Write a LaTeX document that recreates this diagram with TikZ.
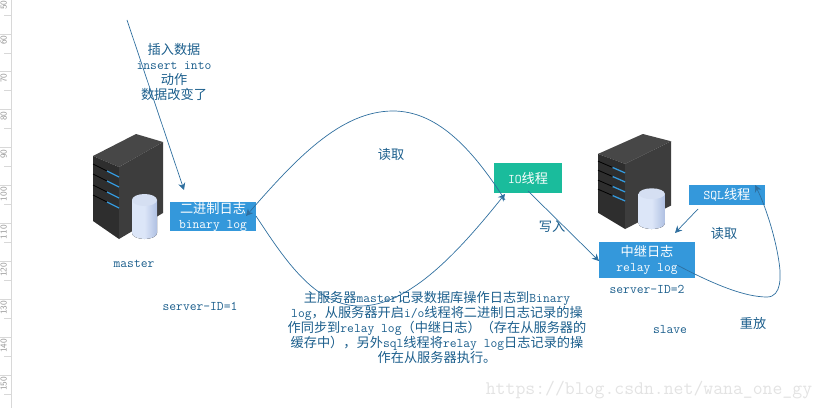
\documentclass[tikz,border=0pt]{standalone}
\usepackage{fontspec}
\newfontfamily\cjk{Noto Sans CJK SC}
\newcommand{\cn}[1]{{\cjk #1}}
\usetikzlibrary{arrows.meta}
\definecolor{inkblue}{HTML}{1B5E8C}
\definecolor{lineblue}{HTML}{2F6F9F}
\definecolor{boxblue}{HTML}{3498DB}
\definecolor{boxgreen}{HTML}{1ABC9C}
\definecolor{rulergray}{HTML}{D8D8D8}
\definecolor{cylside}{HTML}{AFC0E2}
\definecolor{cylmid}{HTML}{DCE6F8}
\definecolor{cyltop}{HTML}{D5DFF2}
\tikzset{
  label text/.style={text=inkblue,align=center,inner sep=0pt,font=\fontsize{13.2}{15}\ttfamily},
  log box/.style={fill=#1,text=white,align=center,inner sep=0pt,font=\fontsize{13.2}{15}\ttfamily},
  flow/.style={draw=lineblue,line width=0.7pt,-{Stealth[length=7pt,width=7pt]}},
  ruler tick/.style={draw=rulergray,line width=0.8pt},
  serverbox/.pic={
    \fill[black!72] (0,22) -- (43,0) -- (70,8) -- (26,33) -- cycle;
    \fill[black!82] (0,22) -- (26,33) -- (26,105) -- (0,87) -- cycle;
    \fill[black!76] (26,33) -- (70,8) -- (70,79) -- (26,105) -- cycle;
    \foreach \slot in {0,10,21,31} {
      \draw[black,line width=0.8pt] (0,30+\slot) -- (14,37+\slot);
      \draw[boxblue,line width=1.3pt] (14,37+\slot) -- (26,43+\slot);
    }
    \fill[left color=cylmid,right color=cylside,middle color=cylmid]
      (39,66) -- (39,99) arc[start angle=180,end angle=360,x radius=12.5pt,y radius=6pt] -- (64,66) -- cycle;
    \fill[cyltop] (51.5,66) ellipse[x radius=12.5pt,y radius=6pt];
  }
}
\begin{document}
\begin{tikzpicture}[x=1pt,y=-1pt]
  \useasboundingbox (0,0) rectangle (826,409);
  % ruler
  \draw[ruler tick,line width=1pt] (11.5,0) -- (11.5,408);
  \foreach \tick [count=\i from 0] in {50,60,...,150} {
    \draw[ruler tick] (0,{-3.9+37.9*\i}) -- (11,{-3.9+37.9*\i});
    \draw[ruler tick] (4,{15.05+37.9*\i}) -- (11,{15.05+37.9*\i});
    \node[rotate=90,anchor=east,inner sep=0pt,text=gray!80,font=\fontsize{9}{9}\sffamily] (ruler\tick) at (3.6,{max(0.5,-2.4+37.9*\i)}) {\tick};
  }
  % servers
  \pic at (93,134) {serverbox};
  \pic[xscale=1.043,yscale=0.905] at (598,134) {serverbox};
  % boxes
  \node[log box=boxblue,minimum width=86pt,minimum height=25pt] (binlog) at (213,216.5) {\cn{二进制日志}\\binary log};
  \node[log box=boxgreen,minimum width=68pt,minimum height=30pt] (iothread) at (528,178) {IO\cn{线程}};
  \node[log box=boxblue,minimum width=76pt,minimum height=20pt] (sqlthread) at (727,195) {SQL\cn{线程}};
  \node[log box=boxblue,minimum width=96pt,minimum height=36pt] (relaylog) at (647,260) {\cn{中继日志}\\relay log};
  % connector ends
  \coordinate (insertstart) at (127,20);
  \coordinate (insertend) at (184,190);
  \coordinate (readstart) at (505,200);
  \coordinate (readend) at (246,216);
  \coordinate (syncstart) at (256,216);
  \coordinate (syncend) at (505,194);
  \coordinate (writestart) at (528,191);
  \coordinate (writeend) at (599,261);
  \coordinate (sqlstart) at (698,209);
  \coordinate (sqlend) at (675,233);
  \coordinate (replaystart) at (677,265);
  \coordinate (replayend) at (755,185);
  % connectors
  \draw[flow] (insertstart) -- (insertend);
  \draw[flow] (readstart) .. controls (470,145) and (435,111) .. (393,111)
    .. controls (340,111) and (295,160) .. (readend);
  \draw[flow] (syncstart) .. controls (285,260) and (315,306) .. (360,306)
    .. controls (410,306) and (460,250) .. (syncend);
  \draw[flow] (writestart) -- (writeend);
  \draw[flow] (sqlstart) -- (sqlend);
  \draw[flow] (replaystart) .. controls (715,285) and (745,297) .. (767,297)
    .. controls (782,297) and (781,275) .. (779,262)
    .. controls (775,235) and (765,205) .. (replayend);
  % labels
  \node[label text] (insertnote) at (174,72) {\cn{插入数据}\\insert into\\\cn{动作}\\\cn{数据改变了}};
  \node[label text] (masterlabel) at (134,264) {master};
  \node[label text] (masterid) at (200,306) {server-ID=1};
  \node[label text] (readnote) at (391,155) {\cn{读取}};
  \node[label text] (writenote) at (552,227) {\cn{写入}};
  \node[label text] (relayread) at (724,234) {\cn{读取}};
  \node[label text] (slaveid) at (647,289) {server-ID=2};
  \node[label text] (slavelabel) at (670,330) {slave};
  \node[label text] (replaynote) at (753,323) {\cn{重放}};
  \node[label text] (summary) at (437,327) {\cn{主服务器}master\cn{记录数据库操作日志到}Binary\\
    log\cn{，从服务器开启}i/o\cn{线程将二进制日志记录的操}\\
    \cn{作同步到}relay log\cn{（中继日志）（存在从服务器的}\\
    \cn{缓存中），另外}sql\cn{线程将}relay log\cn{日志记录的操}\\
    \cn{作在从服务器执行。}};
  \node[inner sep=0pt,text=black!11,font=\fontsize{19.2}{19}\ttfamily] (watermark) at (649,390) {https://blog.csdn.net/wana\_one\_gy};
\end{tikzpicture}
\end{document}
